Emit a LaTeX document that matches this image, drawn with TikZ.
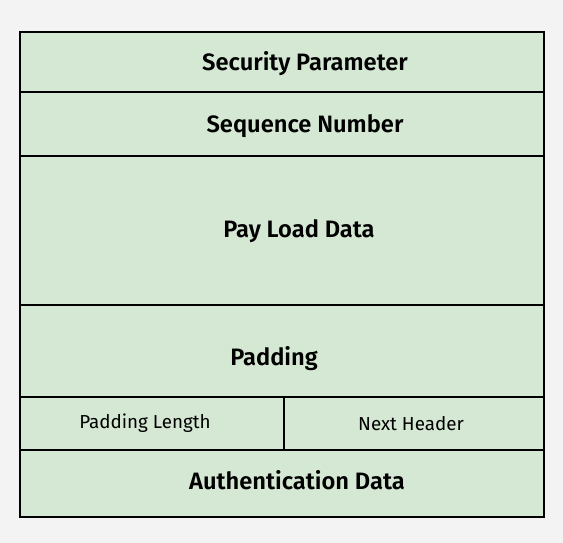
\documentclass[tikz,border=0pt]{standalone}
\usepackage{fontspec}
\setmainfont{Fira Sans}[BoldFont={Fira Sans SemiBold}]
\usetikzlibrary{positioning}
\definecolor{fieldgreen}{HTML}{D5E8D4}
\definecolor{pagegray}{HTML}{F3F3F3}
\tikzset{
  field/.style={draw=black, fill=fieldgreen, line width=1.5pt, inner sep=0pt,
    outer sep=0pt, minimum width=524pt, anchor=north west,
    font=\bfseries\fontsize{23.7}{28}\selectfont},
  subfield/.style={field, font=\fontsize{18.8}{22}\selectfont},
}
\begin{document}
\begin{tikzpicture}[x=1pt,y=-1pt]
  \fill[pagegray] (0,0) rectangle (563,543);
  \node[field, minimum height=60pt] (spi) at (20,32) {\hspace*{46pt}\raisebox{-2pt}[\height][\depth]{Security Parameter}};
  \node[field, minimum height=64pt, below=0pt of spi.south west, anchor=north west] (seq) {\hspace*{46pt}\raisebox{-2pt}[\height][\depth]{Sequence Number}};
  \node[field, minimum height=149pt, below=0pt of seq.south west, anchor=north west] (payload) {\hspace*{34pt}\raisebox{-1pt}[\height][\depth]{Pay Load Data}};
  \node[field, minimum height=92pt, below=0pt of payload.south west, anchor=north west] (pad) {\raisebox{-8pt}[\height][\depth]{Padding}\hspace*{16pt}};
  \node[subfield, minimum width=264pt, minimum height=53pt, below=0pt of pad.south west, anchor=north west] (padlen) {Padding Length\hspace*{14pt}};
  \node[subfield, minimum width=260pt, minimum height=53pt, right=0pt of padlen.north east, anchor=north west] (nexthdr) {Next Header\hspace*{6pt}};
  \node[field, minimum height=67pt, below=0pt of padlen.south west, anchor=north west] (auth) {\hspace*{30pt}\raisebox{3pt}[\height][\depth]{Authentication Data}};
\end{tikzpicture}
\end{document}
